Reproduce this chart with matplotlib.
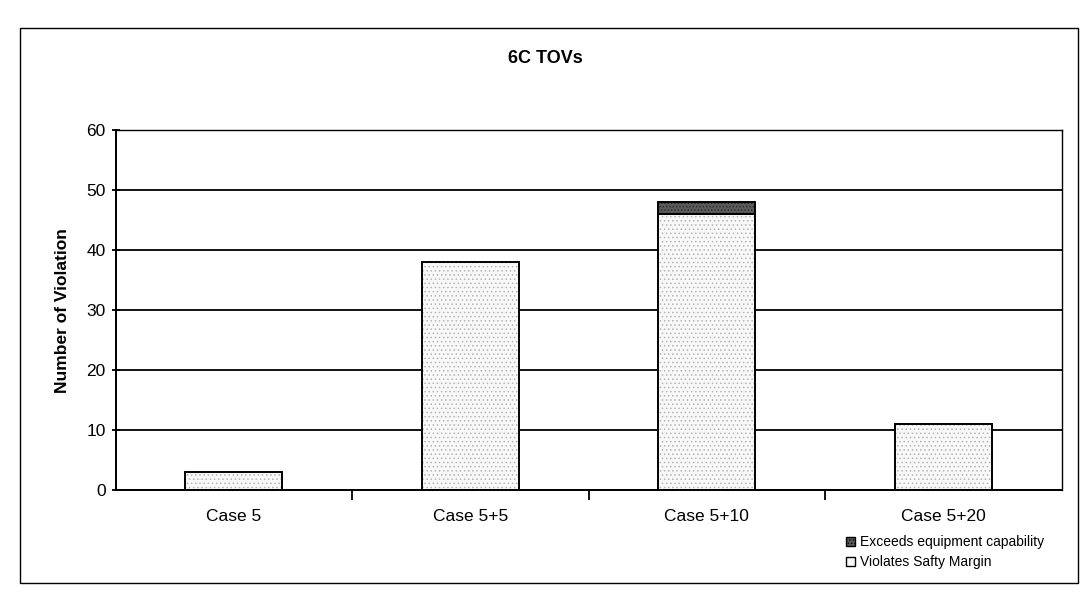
import matplotlib
matplotlib.use('Agg')
import matplotlib.pyplot as plt
from matplotlib.patches import Rectangle, Patch

# Datos / Data
cases = ['Case 5', 'Case 5+5', 'Case 5+10', 'Case 5+20']
violates = [3, 38, 46, 11]
exceeds = [0, 0, 2, 0]
yticks = [0, 10, 20, 30, 40, 50, 60]

plt.rcParams['font.family'] = ['Liberation Sans', 'DejaVu Sans']
plt.rcParams['hatch.linewidth'] = 0.6

fig = plt.figure(figsize=(10.9, 6.11), dpi=100)
ax = fig.add_axes([0.106, 0.198, 0.868, 0.589])

x = list(range(len(cases)))
w = 0.41

# Relleno punteado / stippled fill
ax.bar(x, violates, width=w, color='#f8f8f8', edgecolor='#b5b5b5',
       hatch='....', linewidth=0, zorder=2)
ax.bar(x, exceeds, width=w, bottom=violates, color='#5a5a5a',
       edgecolor='#2a2a2a', hatch='.....', linewidth=0, zorder=2)
# Bordes / outlines
ax.bar(x, violates, width=w, fill=False, edgecolor='black',
       linewidth=1.4, zorder=3)
idx = [i for i in x if exceeds[i] > 0]
ax.bar(idx, [exceeds[i] for i in idx], width=w,
       bottom=[violates[i] for i in idx],
       fill=False, edgecolor='black', linewidth=1.4, zorder=3)

ax.set_ylim(0, 60)
ax.set_xlim(-0.5, len(cases) - 0.5)
ax.set_yticks(yticks)
ax.set_xticks([i + 0.5 for i in range(len(cases) - 1)])
ax.set_xticklabels([])
ax.set_xticks(x, minor=True)
ax.set_xticklabels(cases, minor=True, fontsize=12.5)
ax.tick_params(axis='x', which='minor', length=0, pad=14)
ax.tick_params(axis='x', which='major', length=7, direction='out', width=1.3)
ax.tick_params(axis='y', length=6, direction='inout', width=1.3, labelsize=12.5,
               pad=4)
ax.yaxis.grid(True, color='black', linewidth=1.3, zorder=1)
ax.set_axisbelow(True)
for s in ax.spines.values():
    s.set_linewidth(1.4)
ax.spines['top'].set_linewidth(1.0)
ax.spines['right'].set_linewidth(1.0)

ax.set_ylabel('Number of Violation', fontsize=12.5, fontweight='bold', labelpad=12)
fig.text(0.5, 0.905, '6C TOVs', ha='center', va='center', fontsize=13,
         fontweight='bold')

handles = [Patch(facecolor='#5a5a5a', edgecolor='black', hatch='.....',
                 label='Exceeds equipment capability'),
           Patch(facecolor='#f8f8f8', edgecolor='black',
                 label='Violates Safty Margin')]
fig.legend(handles=handles, loc='upper left', bbox_to_anchor=(0.77, 0.135),
           frameon=False, fontsize=10, handlelength=0.6, handleheight=0.6,
           handletextpad=0.4, labelspacing=0.4, borderpad=0)

# Marco exterior / outer frame
fig.patches.append(Rectangle((0.018, 0.046), 0.971, 0.908, transform=fig.transFigure,
                             fill=False, edgecolor='black', linewidth=1.0))

fig.savefig('out.png', dpi=100)
plt.close(fig)
